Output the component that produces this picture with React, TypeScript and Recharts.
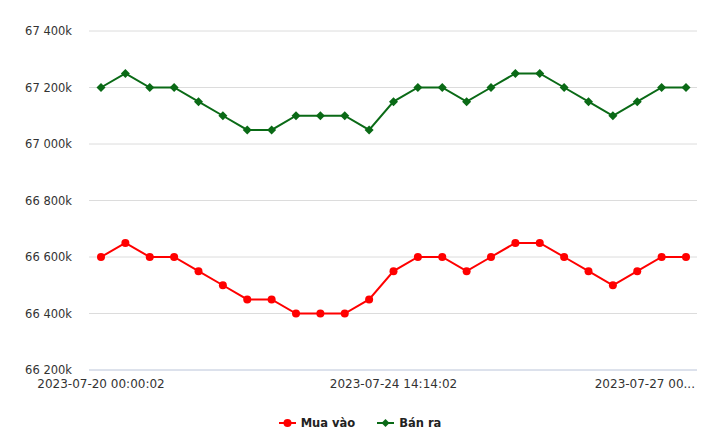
import { LineChart, Line, XAxis, YAxis, CartesianGrid } from "recharts"

// Gold price table (VND), 25 snapshots
const times = [
  "2023-07-20 00:00:02", "2023-07-20 09:00:02", "2023-07-20 14:14:02", "2023-07-21 00:00:02",
  "2023-07-21 09:00:02", "2023-07-21 14:14:02", "2023-07-22 00:00:02", "2023-07-22 09:00:02",
  "2023-07-22 14:14:02", "2023-07-23 00:00:02", "2023-07-23 09:00:02", "2023-07-24 00:00:02",
  "2023-07-24 14:14:02", "2023-07-25 00:00:02", "2023-07-25 09:00:02", "2023-07-25 14:14:02",
  "2023-07-26 00:00:02", "2023-07-26 09:00:02", "2023-07-26 14:14:02", "2023-07-26 17:00:02",
  "2023-07-26 20:00:02", "2023-07-26 22:00:02", "2023-07-26 23:00:02", "2023-07-26 23:30:02",
  "2023-07-27 00:00:02",
]

const muaVao = [
  66600000, 66650000, 66600000, 66600000, 66550000, 66500000, 66450000, 66450000, 66400000,
  66400000, 66400000, 66450000, 66550000, 66600000, 66600000, 66550000, 66600000, 66650000,
  66650000, 66600000, 66550000, 66500000, 66550000, 66600000, 66600000,
]

const banRa = [
  67200000, 67250000, 67200000, 67200000, 67150000, 67100000, 67050000, 67050000, 67100000,
  67100000, 67100000, 67050000, 67150000, 67200000, 67200000, 67150000, 67200000, 67250000,
  67250000, 67200000, 67150000, 67100000, 67150000, 67200000, 67200000,
]

const yTicks = [66200000, 66400000, 66600000, 66800000, 67000000, 67200000, 67400000]
const xTicks = [times[0], times[12], times[24]]

const RED = "#ff0000"
const GREEN = "#0a6a16"
const FONT = "'DejaVu Sans', Verdana, sans-serif"

const data = times.map((t, i) => ({ t, mua: muaVao[i], ban: banRa[i] }))

const fmtY = (v: number) => {
  const k = Math.round(v / 1000)
  return String(k).replace(/\B(?=(\d{3})+(?!\d))/g, " ") + "k"
}

function XTick({ x, y, payload }: any) {
  const isLast = payload.value === times[times.length - 1]
  if (isLast) {
    return (
      <text x={695} y={y} dy="0.71em" textAnchor="end" fontSize={12} fill="#333" fontFamily={FONT}>
        {payload.value.slice(0, 13) + "..."}
      </text>
    )
  }
  return (
    <text x={x} y={y} dy="0.71em" textAnchor="middle" fontSize={12} fill="#333" fontFamily={FONT}>
      {payload.value}
    </text>
  )
}

function Diamond({ cx, cy }: any) {
  if (cx == null || cy == null) return null
  const r = 4.5
  return (
    <polygon
      points={`${cx},${cy - r} ${cx + r},${cy} ${cx},${cy + r} ${cx - r},${cy}`}
      fill={GREEN}
    />
  )
}

function LegendItem({ color, label, diamond }: { color: string; label: string; diamond?: boolean }) {
  return (
    <span style={{ display: "inline-flex", alignItems: "center", margin: "0 11px" }}>
      <svg width={17} height={10} style={{ marginRight: 5 }}>
        <line x1={0} y1={5} x2={17} y2={5} stroke={color} strokeWidth={2} />
        {diamond ? (
          <polygon points="8.5,1 12.5,5 8.5,9 4.5,5" fill={color} />
        ) : (
          <circle cx={8.5} cy={5} r={4} fill={color} />
        )}
      </svg>
      <span>{label}</span>
    </span>
  )
}

export default function App() {
  return (
    <div style={{ position: "relative", width: 720, height: 448, background: "#fff" }}>
      <style>{"body{margin:0}"}</style>
      <LineChart
        width={720}
        height={448}
        data={data}
        margin={{ top: 31, right: 23, bottom: 48, left: 0 }}
      >
        <CartesianGrid vertical={false} stroke="#dcdcdc" />
        <XAxis
          dataKey="t"
          ticks={xTicks}
          interval={0}
          height={30}
          tickLine={false}
          tickSize={0}
          tickMargin={9}
          stroke="#ccd6eb"
          padding={{ left: 12, right: 11 }}
          tick={<XTick />}
        />
        <YAxis
          domain={[66200000, 67400000]}
          ticks={yTicks}
          width={89}
          axisLine={false}
          tickLine={false}
          tickSize={0}
          tickMargin={17}
          tickFormatter={fmtY}
          tick={{ fontSize: 11.5, fill: "#333", fontFamily: FONT }}
        />
        <Line
          dataKey="mua"
          name="Mua vào"
          stroke={RED}
          strokeWidth={2}
          dot={{ r: 4, fill: RED, stroke: RED, strokeWidth: 0 }}
          isAnimationActive={false}
        />
        <Line
          dataKey="ban"
          name="Bán ra"
          stroke={GREEN}
          strokeWidth={2}
          dot={<Diamond />}
          isAnimationActive={false}
        />
      </LineChart>
      <div
        style={{
          position: "absolute",
          top: 414,
          left: 0,
          width: 720,
          textAlign: "center",
          fontFamily: FONT,
          fontSize: 11.5,
          fontWeight: "bold",
          color: "#222",
          lineHeight: "18px",
        }}
      >
        <LegendItem color={RED} label="Mua vào" />
        <LegendItem color={GREEN} label="Bán ra" diamond />
      </div>
    </div>
  )
}
